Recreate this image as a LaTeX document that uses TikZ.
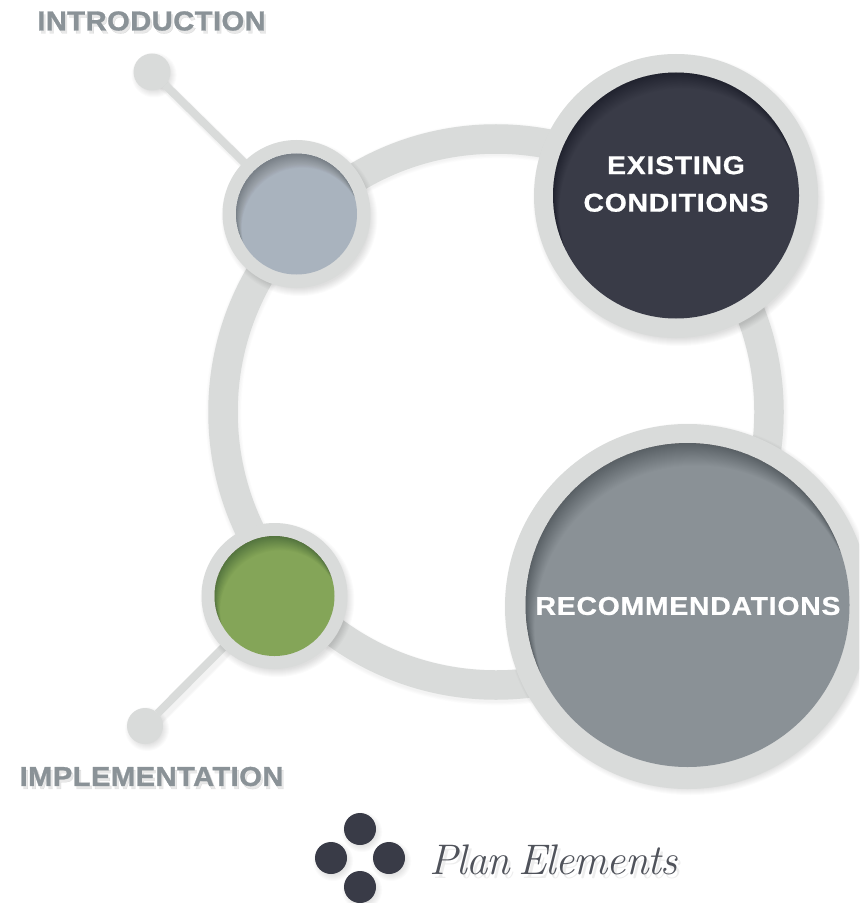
\documentclass[tikz,border=0pt]{standalone}
\usepackage{fontspec}
\setmainfont{Liberation Sans}
\newfontfamily\inlabelfont{Liberation Sans Bold}[LetterSpace=3,FakeStretch=1.1,FakeBold=0.8]
\newfontfamily\outlabelfont{Liberation Sans Bold}[LetterSpace=1.5,FakeStretch=1.07,FakeBold=1.0]
\newfontfamily\plainserif{Latin Modern Roman}[ItalicFeatures={LetterSpace=-2.5},WordSpace=0.6]
\usetikzlibrary{calc}
\definecolor{rimgray}{HTML}{D9DBDA}
\definecolor{introfill}{HTML}{A9B3BE}
\definecolor{existfill}{HTML}{393B47}
\definecolor{recfill}{HTML}{8A9196}
\definecolor{implfill}{HTML}{84A558}
\definecolor{labelgray}{HTML}{8A9297}
\definecolor{legendtext}{HTML}{50535B}
\tikzset{
  x=0.03cm,y=-0.03cm,
  disc/.style={circle,draw=none,inner sep=0pt,outer sep=0pt,fill=#1},
  inlabel/.style={text=white,font=\inlabelfont\fontsize{22}{32}\selectfont,align=center,inner sep=0pt},
  outlabelfmt/.style={font=\outlabelfont\fontsize{23.3}{26}\selectfont,inner sep=0pt},
  outlabel/.style={outlabelfmt,text=labelgray},
  legendfmt/.style={inner sep=0pt,font=\plainserif\itshape\fontsize{36.5}{40}\selectfont},
  stem/.style={draw=rimgray,line width=0.24cm},
}
% soft drop shadow of a disc: offset, x, y, radius (in px)
\newcommand{\softshadow}[4][4]{%
  \foreach \k in {1,...,8}{%
    \fill[black,opacity=0.015] ({#2+#1*0.7},{#3+#1}) circle ({#4+5-\k*1.0});
  }}
% inner shadow of a disc: step, x, y, radius
\newcommand{\innershade}[4]{%
  \begin{scope}
    \clip (#2,#3) circle (#4);
    \foreach \k in {1,...,24}{%
      \fill[black,opacity=0.0135,even odd rule] (-500,-500) rectangle (1500,1500)
        ({#2+0.27*#1*\k},{#3+0.67*#1*\k}) circle (#4);
    }
  \end{scope}}
\begin{document}
\begin{tikzpicture}
\useasboundingbox (0,0) rectangle (859,903);
\clip (0,0) rectangle (859,903);
\fill[white] (0,0) rectangle (859,903);

% ring
\foreach \k in {1,...,6}{\draw[black,opacity=0.008,line width={(29+8-\k*1.2)*0.03cm}] (497,414) circle (273.5);}
\node[circle,draw=rimgray,line width={29.5*0.03cm},minimum size={546*0.03cm},inner sep=0pt,outer sep=0pt] (ring) at (496,412) {};

% small end dots and stems
\coordinate (cintro) at (296.5,214);
\coordinate (cimpl) at (274.5,596);
\coordinate (sintro) at (152,72);
\coordinate (simpl) at (145,726);
\softshadow[3]{152}{72}{18.5}
\softshadow[3]{145}{726}{18}
\foreach \k in {1,...,4}{
 \draw[black,opacity=0.012,line width={(8+5-\k)*0.03cm}] ($(sintro)+(3,4)$) -- ($(cintro)+(3,4)$);
 \draw[black,opacity=0.012,line width={(8+5-\k)*0.03cm}] ($(simpl)+(3,4)$) -- ($(cimpl)+(3,4)$);}
\node[disc=rimgray,minimum size={37*0.03cm}] (dotintro) at (sintro) {};
\node[disc=rimgray,minimum size={36*0.03cm}] (dotimpl) at (simpl) {};
\draw[stem] (dotintro) -- (cintro);
\draw[stem] (dotimpl) -- (cimpl);

% large elements
\softshadow{296.5}{214}{74}
\node[disc=rimgray,minimum size={148*0.03cm}] (introrim) at (296.5,214) {};
\node[disc=introfill,minimum size={121*0.03cm}] (intro) at (296.5,214) {};
\innershade{0.9}{296.5}{214}{60.5}

\softshadow{274.5}{596}{73}
\node[disc=rimgray,minimum size={146*0.03cm}] (implrim) at (274.5,596) {};
\node[disc=implfill,minimum size={120*0.03cm}] (impl) at (274.5,596) {};
\innershade{0.9}{274.5}{596}{60}

\softshadow{676}{196}{142}
\node[disc=rimgray,minimum size={284*0.03cm}] (existrim) at (676,196) {};
\node[disc=existfill,minimum size={246*0.03cm}] (exist) at (676,195.5) {};
\innershade{1.0}{676}{195.5}{123}

\softshadow{687.5}{605}{182}
\node[disc=rimgray,minimum size={365*0.03cm}] (recrim) at (687.5,606.5) {};
\node[disc=recfill,minimum size={324*0.03cm}] (rec) at (687.5,605) {};
\innershade{1.4}{687.5}{605}{162}

% inner labels
\node[inlabel] (existlabel) at (676,184) {EXISTING\\CONDITIONS};
\node[inlabel] (reclabel) at (688,606) {RECOMMENDATIONS};

% outer labels, each with a soft shadow
\node[outlabelfmt,text=black,opacity=0.09] (introshadow) at (153.5,24) {INTRODUCTION};
\node[outlabelfmt,text=black,opacity=0.09] (implshadow) at (153.5,779.5) {IMPLEMENTATION};
\node[outlabel] (introlabel) at (151.5,21) {INTRODUCTION};
\node[outlabel] (impllabel) at (151.5,776.5) {IMPLEMENTATION};

% legend
\foreach \n/\x/\y in {a/360/829,b/331/858,c/389/858,d/360/887}{
  \softshadow[3]{\x}{\y}{16}
  \node[disc=existfill,minimum size={32*0.03cm}] (leg\n) at (\x,\y) {};
}
\node[legendfmt,text=black,opacity=0.07] (legendshadow) at (556.5,864) {Plan Elements};
\node[legendfmt,text=legendtext] (legendlabel) at (553.5,860) {Plan Elements};
\end{tikzpicture}
\end{document}
